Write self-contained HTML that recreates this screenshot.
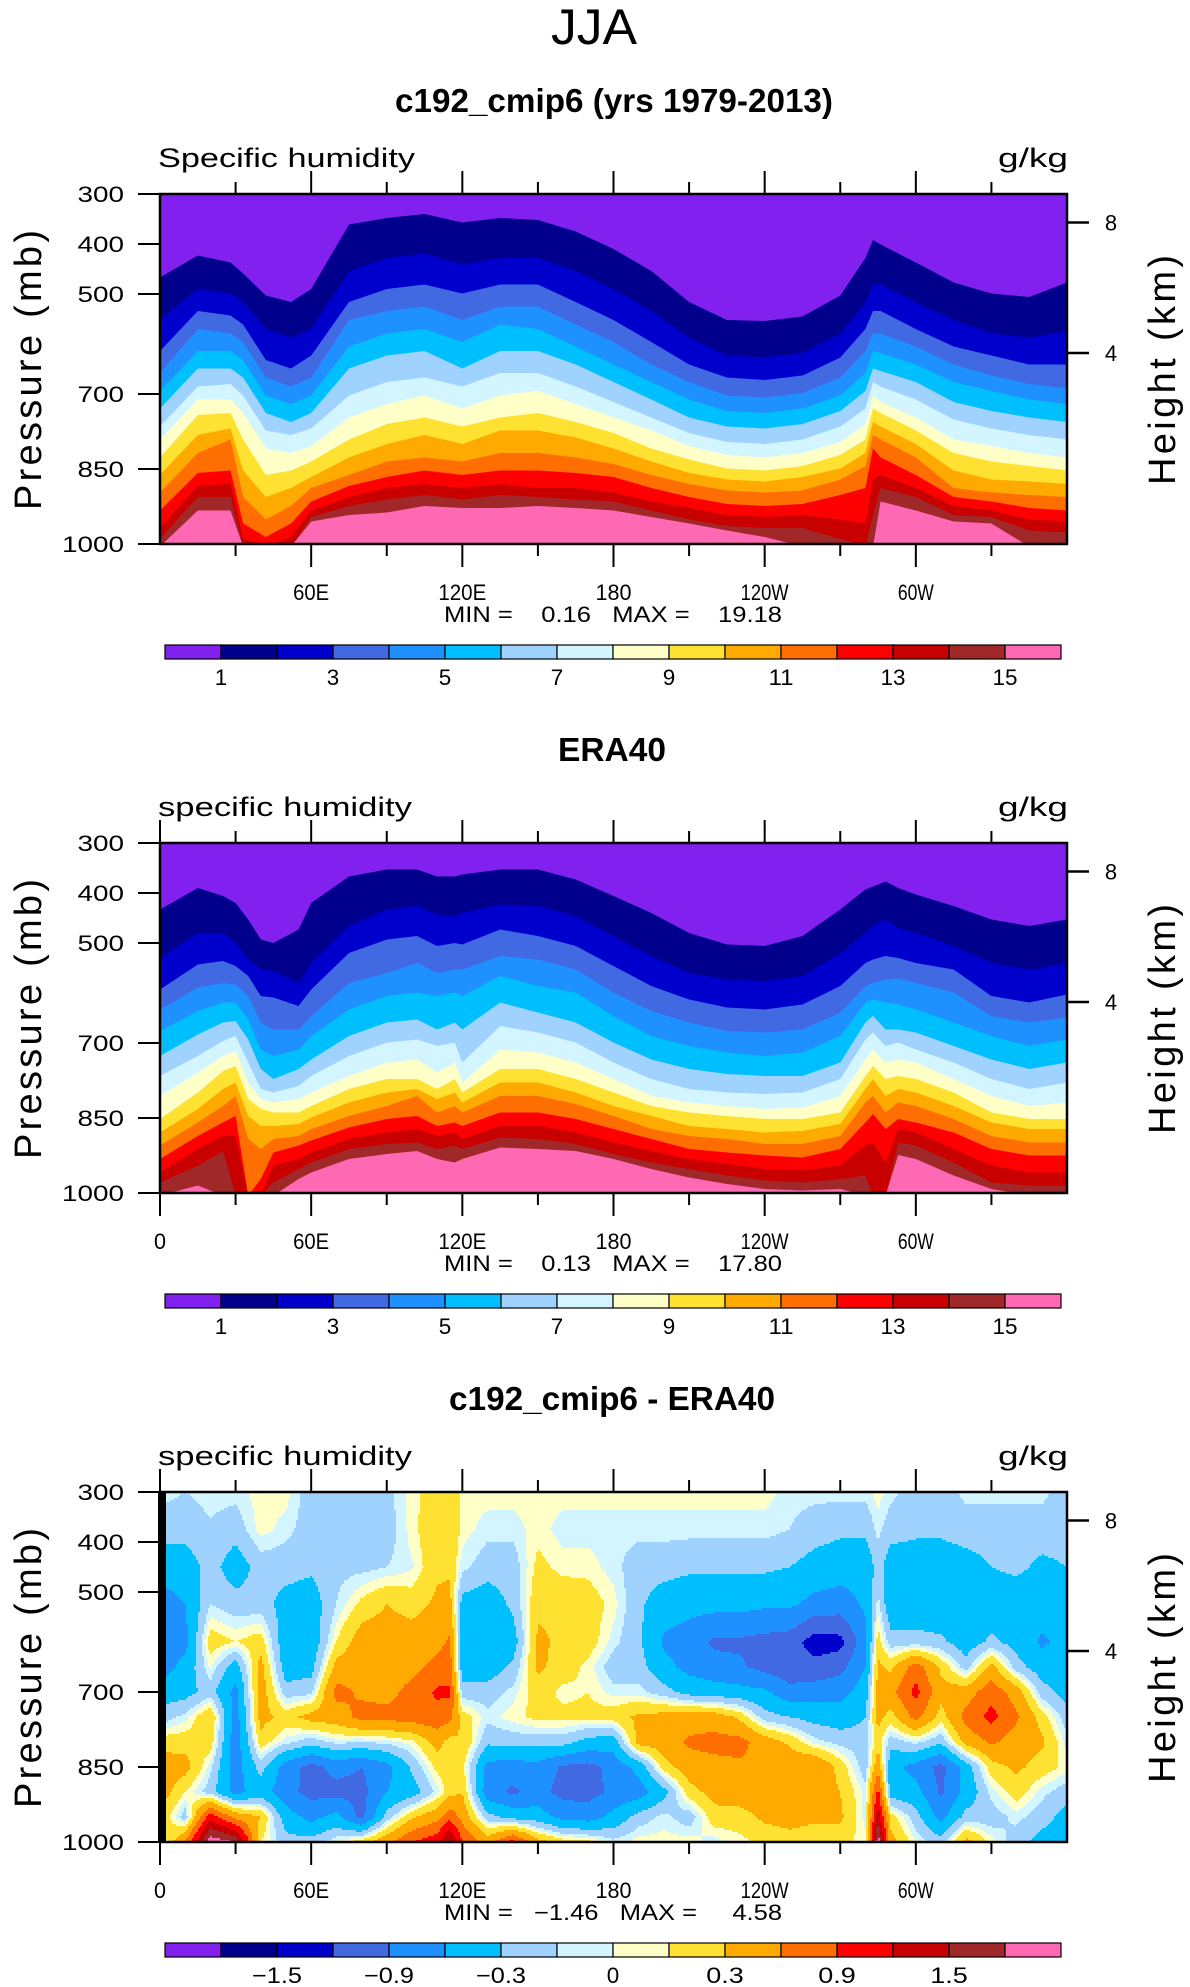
<!DOCTYPE html>
<html><head><meta charset="utf-8">
<style>
html,body{margin:0;padding:0;background:#fff;}
svg{display:block;font-family:"Liberation Sans",sans-serif;}
text{font-family:"Liberation Sans",sans-serif;}
</style></head>
<body>
<svg id="fig" width="1190" height="1987" viewBox="0 0 1190 1987" xmlns="http://www.w3.org/2000/svg">
<text x="594" y="44" font-size="50" text-anchor="middle" textLength="86" lengthAdjust="spacingAndGlyphs">JJA</text>
<text x="614" y="112" font-size="33" font-weight="bold" text-anchor="middle" textLength="438" lengthAdjust="spacingAndGlyphs">c192_cmip6 (yrs 1979-2013)</text>
<text x="612" y="761" font-size="33" font-weight="bold" text-anchor="middle" textLength="108" lengthAdjust="spacingAndGlyphs">ERA40</text>
<text x="612" y="1410" font-size="33" font-weight="bold" text-anchor="middle" textLength="326" lengthAdjust="spacingAndGlyphs">c192_cmip6 - ERA40</text>
<g id="layer"></g>
</svg>
<script>
// ---------- shared data ----------
const colors = ["#8220F0","#00008C","#0000CD","#4169E1","#1E90FF","#00BFFF","#A0D2FF","#D2F5FF","#FFFFC8","#FFE132","#FFAA00","#FF6E00","#FF0000","#C80000","#A02828","#FF69B4"];
const qLevels = [1,2,3,4,5,6,7,8,9,10,11,12,13,14,15];
const qLabels = ["1","3","5","7","9","11","13","15"];
const dLevels = [-1.8,-1.5,-1.2,-0.9,-0.6,-0.3,-0.1,0,0.1,0.3,0.6,0.9,1.2,1.5,1.8];
const dLabels = ["\u22121.5","\u22120.9","\u22120.3","0","0.3","0.9","1.5"];
const lonTicks = [0,30,60,90,120,150,180,210,240,270,300,330];
const lonLabels = ["0","","60E","","120E","","180","","120W","","60W",""];
const pTicks = [300,400,500,700,850,1000];
const kmTicks = [8,4];
const kmTickP = [357,618];
const statsText = ["MIN =    0.16   MAX =    19.18","MIN =    0.13   MAX =    17.80","MIN =   \u22121.46   MAX =     4.58"];
const sideTitles = ["Specific humidity","specific humidity","specific humidity"];

// Panel 1: pressure (mb) of each contour surface (q = 1..15 g/kg) at each longitude
const p1Lons = [0,15,28,33,42,52,60,75,90,105,120,135,150,165,180,195,210,225,240,255,270,280,283,286,300,315,330,345,360];
const p1Isobars = [
[467,552,614,658,694,729,765,791,827,862,897,933,968,990,1005],
[423,490,534,570,614,649,685,711,742,782,818,858,884,906,933],
[437,499,543,579,614,649,680,711,738,769,791,853,880,906,933],
[459,516,561,596,632,667,703,738,791,853,906,959,990,1005,1005],
[503,570,632,667,703,738,773,809,862,906,951,986,1005,1005,1005],
[516,587,649,685,720,756,782,818,853,888,924,959,986,1005,1005],
[490,570,623,667,703,738,769,804,835,866,888,915,933,946,955],
[361,454,516,552,605,649,703,747,791,827,862,884,906,924,942],
[348,428,490,534,579,623,676,720,760,800,835,866,888,911,937],
[340,419,481,525,570,614,667,703,747,782,827,853,880,902,924],
[357,441,499,552,596,649,685,729,765,800,835,862,888,911,928],
[348,428,481,525,561,614,658,703,747,773,818,853,880,902,928],
[352,428,481,525,570,614,658,694,738,773,818,853,888,906,924],
[375,454,516,561,605,641,685,720,756,787,827,858,888,911,928],
[410,490,552,596,641,676,716,747,778,809,840,866,897,915,933],
[454,534,596,641,676,711,747,773,809,835,862,888,915,933,946],
[516,587,641,676,711,747,778,804,831,858,880,906,928,951,959],
[552,623,667,703,734,765,796,822,849,871,893,920,942,964,973],
[554,627,672,707,738,769,800,827,853,875,897,924,946,968,986],
[545,618,663,698,729,760,791,818,844,866,893,920,942,968,1005],
[503,579,627,667,703,734,765,796,822,849,871,902,951,990,1005],
[428,516,570,614,658,694,729,760,791,818,844,888,959,1005,1005],
[392,481,534,579,614,649,676,703,729,756,782,809,871,942,1005],
[401,481,534,579,618,654,685,716,738,765,791,827,862,888,915],
[437,516,570,605,641,676,711,747,773,800,827,862,888,906,933],
[477,552,605,641,676,716,751,791,818,853,888,906,924,942,955],
[499,579,623,663,694,734,769,804,835,871,897,915,933,946,959],
[506,587,641,680,711,747,782,818,844,875,902,928,951,973,1005],
[477,574,641,689,720,756,791,827,853,880,906,933,955,977,1005]
];

// Panel 2: ERA40
const p2Lons = [0,15,25,30,35,40,45,55,60,75,90,102,110,117,120,135,150,165,180,195,210,225,240,255,270,280,283,288,293,300,315,330,345,360];
const p2Isobars = [
[433,530,593,633,676,726,766,806,852,879,905,932,959,979,1005],
[390,480,543,589,636,683,726,759,799,832,859,886,912,945,985],
[406,480,536,580,619,659,696,726,756,792,826,859,886,916,1005],
[420,500,546,583,619,656,686,716,746,779,806,846,886,1005,1005],
[453,533,566,606,653,693,739,779,812,846,892,1005,1005,1005,1005],
[493,553,606,659,713,752,792,812,832,866,912,972,1005,1005,1005],
[500,556,609,673,726,772,799,819,839,866,892,919,945,979,1005],
[473,580,626,673,713,752,786,812,839,862,886,905,932,952,972],
[420,540,593,646,686,733,766,799,826,849,872,895,919,939,959],
[367,466,520,580,633,686,726,766,792,819,846,869,892,912,932],
[353,433,493,560,606,659,699,739,772,799,826,852,879,902,922],
[353,426,486,540,599,653,693,733,772,792,806,846,872,899,916],
[367,443,506,560,606,673,706,759,792,812,839,866,886,912,932],
[367,446,500,553,599,659,699,739,772,799,826,859,879,905,939],
[363,440,503,553,606,673,739,779,799,819,839,866,892,912,932],
[353,423,473,526,566,619,666,713,752,779,806,839,866,889,909],
[353,426,486,533,586,639,679,719,752,779,806,839,866,892,912],
[373,446,506,553,599,659,699,739,772,799,822,852,879,902,916],
[406,486,546,599,646,699,739,772,799,826,846,872,899,922,932],
[440,526,586,636,686,733,772,806,826,846,872,892,916,939,952],
[480,560,613,659,706,752,792,819,839,866,886,912,932,952,969],
[503,573,629,676,719,762,799,826,846,872,892,919,942,965,982],
[506,576,633,679,726,766,802,832,852,879,902,925,952,975,992],
[486,566,623,673,719,766,799,829,852,876,902,929,955,979,995],
[433,520,586,639,686,739,772,806,839,862,886,912,945,972,992],
[393,480,540,586,619,659,693,733,766,792,819,859,905,965,1005],
[387,466,533,580,613,646,679,713,746,772,806,842,899,1005,1005],
[377,453,526,573,619,673,706,739,772,806,839,872,939,1005,1005],
[390,470,530,571,623,673,699,733,766,792,819,852,872,899,924],
[403,480,540,580,633,679,713,739,772,799,826,859,879,905,932],
[426,506,553,599,659,706,739,772,799,826,852,879,912,939,965],
[453,540,606,646,686,733,772,806,839,859,886,912,945,979,992],
[466,553,619,659,706,752,792,826,852,872,899,925,959,985,1005],
[453,540,603,649,693,739,779,819,852,872,899,925,959,985,1005]
];

// Panel 3: difference field (g/kg) on lon x pressure grid
const p3Lons = [0,10,20,30,40,50,60,70,80,90,100,110,115,120,130,140,150,160,170,180,190,200,210,220,230,240,250,260,270,280,285,290,300,310,320,330,340,350,360];
const p3Levels = [300,375,450,525,600,650,700,750,800,850,900,950,1000];
const p3Values = [
[-0.05,-0.2,-0.45,-0.75,-0.75,-0.75,-0.45,-0.2,0.2,0.45,0.45,0.3,-0.1],
[-0.1,-0.2,-0.45,-0.6,-0.7,-0.5,-0.4,-0.05,0.2,0.4,0.1,-0.2,0.6],
[-0.05,-0.12,-0.2,-0.1,0.2,0.02,-0.2,0.3,0.2,-0.05,-0.2,1.1,2.0],
[-0.05,-0.2,-0.45,-0.2,0.1,-0.45,-0.7,-0.75,-0.8,-0.75,-0.7,0.5,1.8],
[0.05,0.05,-0.2,-0.2,0.2,0.4,0.45,0.4,0.2,-0.2,-0.45,0.3,0.1],
[0.05,-0.05,-0.2,-0.4,-0.5,-0.45,-0.2,0.2,-0.05,-0.75,-0.8,-0.45,-0.2],
[-0.2,-0.2,-0.25,-0.45,-0.5,-0.4,-0.15,0.4,-0.2,-1.0,-1.0,-0.7,-0.2],
[-0.2,-0.25,-0.15,-0.1,0.1,0.4,0.7,0.45,-0.05,-0.8,-1.0,-0.5,0],
[-0.15,-0.2,-0.15,0.15,0.45,0.5,0.55,0.7,-0.1,-0.9,-1.0,-1.0,0.2],
[-0.15,-0.2,-0.1,0.3,0.45,0.45,0.5,0.7,-0.05,-0.7,-0.6,-0.2,0.5],
[0.05,0.05,-0.02,0.2,0.45,0.5,0.7,0.75,0.05,-0.25,-0.45,0.25,0.9],
[0.2,0.25,0.25,0.35,0.5,0.7,0.95,0.8,0.4,0.15,-0.05,0.5,1.1],
[0.25,0.3,0.25,0.4,0.65,0.75,0.95,0.7,0.2,0.2,0.2,0.8,1.6],
[0.05,0.05,-0.05,-0.4,-0.45,-0.45,-0.2,0.2,0.3,0.15,0.3,0.5,0.9],
[0.05,-0.05,-0.2,-0.45,-0.5,-0.45,-0.2,-0.05,-0.25,-0.7,-0.8,-0.2,0.45],
[0.05,-0.05,-0.2,-0.25,-0.45,-0.25,-0.05,0.05,-0.2,-0.75,-0.95,-0.4,1.0],
[0.05,0.05,0.15,0.25,0.35,0.35,0.2,0.15,-0.2,-0.7,-0.8,-0.45,0.4],
[0.05,-0.05,0.05,0.25,0.25,0.2,0.05,0.15,-0.2,-0.95,-1.0,-0.7,0.2],
[0.05,-0.05,0.05,0.2,0.2,0.05,0.1,0.15,-0.4,-1.0,-1.0,-0.75,0.15],
[0.05,-0.05,-0.05,0.05,-0.05,-0.2,-0.05,0.2,-0.45,-0.8,-0.85,-0.5,-0.05],
[0.05,-0.05,-0.2,-0.25,-0.25,-0.2,-0.05,0.35,0.4,-0.5,-0.75,-0.2,0.05],
[0.05,-0.05,-0.2,-0.45,-0.65,-0.5,-0.2,0.4,0.45,0.2,-0.4,-0.05,0.05],
[0.05,-0.05,-0.25,-0.5,-0.75,-0.7,-0.4,0.45,0.65,0.45,0.2,-0.2,0.05],
[0.05,-0.05,-0.25,-0.5,-0.95,-0.8,-0.45,0.45,0.7,0.5,0.4,0.2,-0.05],
[0.05,-0.05,-0.25,-0.5,-0.95,-0.85,-0.5,0.25,0.7,0.55,0.45,0.2,0.05],
[0.05,-0.05,-0.25,-0.55,-1.0,-1.0,-0.55,-0.2,0.45,0.55,0.45,0.35,0.15],
[-0.05,-0.1,-0.3,-0.55,-1.05,-1.1,-0.8,-0.3,0.25,0.5,0.55,0.4,0.2],
[-0.05,-0.2,-0.4,-0.7,-1.35,-1.1,-0.75,-0.4,-0.05,0.6,0.5,0.35,0.15],
[-0.05,-0.25,-0.45,-0.75,-1.3,-1.0,-0.7,-0.45,-0.15,0.2,0.3,0.35,0.15],
[-0.05,-0.25,-0.5,-0.55,-0.7,-0.6,-0.45,-0.3,-0.2,-0.2,-0.05,-0.05,0.05],
[0.05,-0.05,-0.2,-0.05,0.2,0.35,0.4,0.4,0.2,0.5,1.0,1.4,2.0],
[-0.05,-0.2,-0.45,-0.5,-0.2,0.25,0.5,0.2,-0.2,-0.5,-0.45,0.2,0.4],
[-0.2,-0.25,-0.45,-0.5,-0.2,0.75,1.0,0.7,-0.05,-0.7,-0.5,-0.2,0],
[-0.2,-0.25,-0.45,-0.5,-0.25,0.25,0.4,0.2,-0.25,-1.0,-0.95,-0.7,-0.2],
[-0.05,-0.2,-0.4,-0.5,-0.45,-0.2,0.45,0.7,0.4,-0.45,-0.5,-0.2,0.4],
[-0.05,-0.2,-0.3,-0.45,-0.25,0.4,0.8,1.0,0.65,0.2,-0.05,-0.2,0.05],
[-0.05,-0.2,-0.25,-0.45,-0.4,-0.2,0.45,0.65,0.45,0.35,0.2,-0.05,-0.2],
[-0.05,-0.2,-0.35,-0.45,-0.65,-0.45,-0.2,0.2,0.35,0.2,-0.05,-0.2,-0.4],
[-0.2,-0.2,-0.3,-0.45,-0.5,-0.45,-0.4,-0.2,-0.05,0.05,-0.2,-0.4,-0.45]
];

// ---------- geometry ----------
const NS = "http://www.w3.org/2000/svg";
const layer = document.getElementById("layer");
const L = 160, R = 1067, H = 350;
const tops = [194, 843, 1492];
function xLon(lon){ return L + lon / 360 * (R - L); }
function yP(p, top){ return top + (p - 300) / 700 * H; }
function mk(tag, attrs, parent){
  const e = document.createElementNS(NS, tag);
  for (const k in attrs) e.setAttribute(k, attrs[k]);
  (parent || layer).appendChild(e);
  return e;
}
function levelIndex(v, levels){
  let i = 0;
  while (i < levels.length && v >= levels[i]) i++;
  return i;
}

function drawIsobarPanel(pi, lons, isobars){
  const top = tops[pi];
  const g = mk("g", {"clip-path": "url(#clip" + pi + ")"});
  
  
  const bg = mk("rect", {x: L, y: top, width: R - L, height: H, fill: colors[0]}, g);
  
  
  for (let k = 0; k < qLevels.length; k++){
    let pts = [];
    for (let i = 0; i < lons.length; i++){
      pts.push(xLon(lons[i]).toFixed(1) + "," + yP(isobars[i][k], top).toFixed(1));
    }
    pts.push(R + 2 + "," + (top + H + 5));
    pts.push(L - 2 + "," + (top + H + 5));
    const poly = mk("polygon", {points: pts.join(" "), fill: colors[k + 1]}, g);
    
    
  }
}

function interp2(lon, p){
  let i = 0;
  while (i < p3Lons.length - 2 && lon > p3Lons[i + 1]) i++;
  let j = 0;
  while (j < p3Levels.length - 2 && p > p3Levels[j + 1]) j++;
  const tx = Math.min(1, Math.max(0, (lon - p3Lons[i]) / (p3Lons[i + 1] - p3Lons[i])));
  const ty = Math.min(1, Math.max(0, (p - p3Levels[j]) / (p3Levels[j + 1] - p3Levels[j])));
  const a = p3Values[i][j], b = p3Values[i + 1][j], c = p3Values[i][j + 1], d = p3Values[i + 1][j + 1];
  return (a * (1 - tx) + b * tx) * (1 - ty) + (c * (1 - tx) + d * tx) * ty;
}

function drawGridPanel(pi){
  const top = tops[pi];
  const g = mk("g", {"clip-path": "url(#clip" + pi + ")", "shape-rendering": "crispEdges"});
  
  
  const step = 2;
  for (let y = top; y < top + H; y += step){
    const p = 300 + (y + step / 2 - top) / H * 700;
    let runStart = L, runIdx = -1;
    for (let x = L; x <= R + step; x += step){
      let idx = -2;
      if (x < R){
        const lon = (x + step / 2 - L) / (R - L) * 360;
        idx = levelIndex(interp2(lon, p), dLevels);
      }
      if (idx !== runIdx){
        if (runIdx >= 0){
          const r = mk("rect", {x: runStart, y: y, width: x - runStart + 0.5, height: step + 0.5, fill: colors[runIdx]}, g);
          
          
        }
        runStart = x; runIdx = idx;
      }
    }
  }
}

// clip paths
const defs = mk("defs", {});
for (let pi = 0; pi < 3; pi++){
  const cp = mk("clipPath", {id: "clip" + pi}, defs);
  mk("rect", {x: L, y: tops[pi], width: R - L, height: H}, cp);
}

drawIsobarPanel(0, p1Lons, p1Isobars);
drawIsobarPanel(1, p2Lons, p2Isobars);
drawGridPanel(2);

// ---------- axes & decorations ----------
for (let pi = 0; pi < 3; pi++){
  const top = tops[pi], bot = top + H;
  const frame = mk("rect", {x: L, y: top, width: R - L, height: H, fill: "none", stroke: "#000", "stroke-width": 2.5});
  
  
  if (pi === 2){
    const thick = mk("rect", {x: 158, y: top, width: 8, height: H, fill: "#000"});
    
    
  }
  for (let t = 0; t < lonTicks.length; t++){
    if (pi === 0 && lonTicks[t] === 0) continue;
    const x = xLon(lonTicks[t]);
    const len = (lonTicks[t] % 60 === 0) ? 23 : 12;
    const tt = mk("line", {x1: x, y1: top - len, x2: x, y2: top, stroke: "#000", "stroke-width": 2});
    
    
    const tb = mk("line", {x1: x, y1: bot, x2: x, y2: bot + len, stroke: "#000", "stroke-width": 2});
    
    
    if (lonLabels[t] !== "" && !(pi === 0 && lonTicks[t] === 0)){
      const lab = mk("text", {x: x, y: bot + 56, "font-size": 22, "text-anchor": "middle", textLength: lonLabels[t].length * 12, lengthAdjust: "spacingAndGlyphs"});
      lab.textContent = lonLabels[t];
      
      
    }
  }
  for (let t = 0; t < pTicks.length; t++){
    const y = yP(pTicks[t], top);
    const tk = mk("line", {x1: 138, y1: y, x2: L, y2: y, stroke: "#000", "stroke-width": 2});
    
    
    const s = String(pTicks[t]);
    const lab = mk("text", {x: 124, y: y + 8, "font-size": 22, "text-anchor": "end", textLength: s.length * 15.5, lengthAdjust: "spacingAndGlyphs"});
    lab.textContent = s;
    
    
  }
  for (let t = 0; t < kmTicks.length; t++){
    const y = yP(kmTickP[t], top);
    const tk = mk("line", {x1: R, y1: y, x2: R + 22, y2: y, stroke: "#000", "stroke-width": 2.5});
    
    
    const lab = mk("text", {x: 1111, y: y + 8, "font-size": 22, "text-anchor": "middle"});
    lab.textContent = String(kmTicks[t]);
    
    
  }
  const yt = mk("text", {transform: "translate(41," + (top + 176) + ") rotate(-90)", "font-size": 38, "text-anchor": "middle", textLength: 280, lengthAdjust: "spacing"});
  yt.textContent = "Pressure (mb)";
  
  
  const ht = mk("text", {transform: "translate(1175," + (top + 176) + ") rotate(-90)", "font-size": 38, "text-anchor": "middle", textLength: 230, lengthAdjust: "spacing"});
  ht.textContent = "Height (km)";
  
  
  const st = mk("text", {x: 158, y: top - 27, "font-size": 27, textLength: sideTitles[pi] === "Specific humidity" ? 257 : 254, lengthAdjust: "spacingAndGlyphs"});
  st.textContent = sideTitles[pi];
  
  
  const un = mk("text", {x: 1068, y: top - 27, "font-size": 27, "text-anchor": "end", textLength: 70, lengthAdjust: "spacingAndGlyphs"});
  un.textContent = "g/kg";
  
  
  const mm = mk("text", {x: 444, y: bot + 78, "font-size": 22, textLength: 338, lengthAdjust: "spacingAndGlyphs", style: "white-space:pre"});
  mm.textContent = statsText[pi];
  
  
  const cbTop = top + 451, cbL = 165, bw = 56;
  for (let c = 0; c < colors.length; c++){
    const box = mk("rect", {x: cbL + c * bw, y: cbTop, width: bw, height: 14, fill: colors[c], stroke: "#000", "stroke-width": 1.2});
    
    
  }
  const labs = pi === 2 ? dLabels : qLabels;
  for (let c = 0; c < labs.length; c++){
    const b = 2 * c + (pi === 2 ? 2 : 1);
    const lab = mk("text", {x: cbL + b * bw, y: top + 491, "font-size": 22, "text-anchor": "middle", textLength: labs[c].replace("\u2212","-").length * 12.5, lengthAdjust: "spacingAndGlyphs"});
    lab.textContent = labs[c];
    
    
  }
}
</script>
</body></html>
